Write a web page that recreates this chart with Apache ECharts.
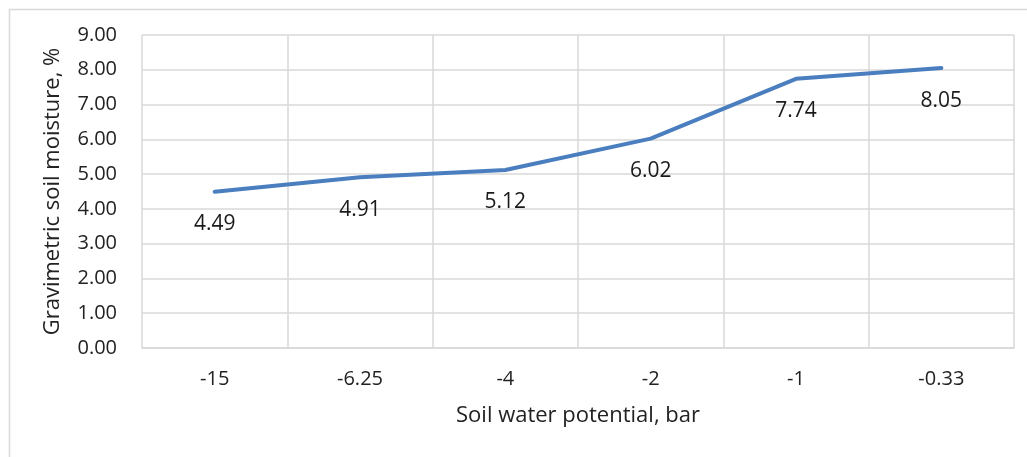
<!DOCTYPE html>
<html>
<head>
<meta charset="utf-8">
<script src="https://cdn.jsdelivr.net/npm/echarts@6/dist/echarts.min.js"></script>
<style>
html,body{margin:0;padding:0;background:#fff;}
#c{width:1027px;height:457px;}
</style>
</head>
<body>
<div id="c"></div>
<script>
const categories = ['-15', '-6.25', '-4', '-2', '-1', '-0.33'];
const moisture = [4.49, 4.91, 5.12, 6.02, 7.74, 8.05];
const yMin = 0, yMax = 9, yStep = 1;

const chart = echarts.init(document.getElementById('c'), null, {renderer: 'canvas'});
const font = 'Open Sans';
chart.setOption({
  animation: false,
  graphic: [{
    type: 'rect', left: 7, top: 7, silent: true,
    shape: {width: 1019, height: 449},
    style: {fill: 'none', stroke: '#d9d9d9', lineWidth: 1.5}
  }],
  grid: {left: 142, right: 13, top: 35, bottom: 109},
  xAxis: {
    type: 'category',
    data: categories,
    boundaryGap: true,
    name: 'Soil water potential, bar',
    nameLocation: 'middle',
    nameGap: 57,
    nameTextStyle: {fontFamily: font, fontSize: 22, color: '#222'},
    axisLine: {lineStyle: {color: '#d9d9d9', width: 1.5}},
    axisTick: {show: false},
    axisLabel: {fontFamily: font, fontSize: 20, color: '#222', margin: 21},
    splitLine: {show: true, lineStyle: {color: '#d9d9d9', width: 1.5}}
  },
  yAxis: {
    type: 'value',
    min: yMin, max: yMax, interval: yStep,
    name: 'Gravimetric soil moisture, %',
    nameLocation: 'middle',
    nameGap: 78,
    nameTextStyle: {fontFamily: font, fontSize: 22, color: '#222'},
    axisLine: {show: false},
    axisTick: {show: false},
    axisLabel: {fontFamily: font, fontSize: 20, color: '#222', margin: 25,
      formatter: v => v.toFixed(2)},
    splitLine: {lineStyle: {color: '#d9d9d9', width: 1.5}}
  },
  series: [{
    type: 'line',
    data: moisture,
    symbol: 'circle',
    symbolSize: 2,
    showSymbol: true,
    itemStyle: {color: '#4a7ebf', borderWidth: 0},
    lineStyle: {color: '#4a7ebf', width: 4, cap: 'round', join: 'round'},
    label: {
      show: true, position: 'bottom', distance: 21,
      fontFamily: font, fontSize: 21, color: '#1a1a1a',
      formatter: p => p.value.toFixed(2)
    }
  }]
});
</script>
</body>
</html>
